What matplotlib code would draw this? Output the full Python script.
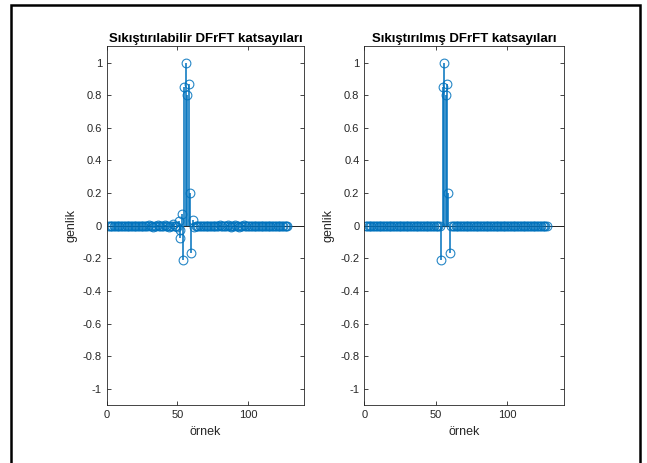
import numpy as np
import matplotlib.pyplot as plt
from matplotlib.patches import Rectangle

plt.rcParams['font.family'] = ['Liberation Sans', 'DejaVu Sans']

# sample index 1..128
n = np.arange(1, 129)

# main peak of both coefficient sets
peak_idx = [54, 55, 56, 57, 58, 59, 60]
peak_val = [-0.21, 0.85, 1.0, 0.80, 0.87, 0.20, -0.17]

# extra small coefficients only present in the compressible (left) set
small_idx = [30, 33, 36, 38, 41, 44, 47, 50, 51, 52, 53, 61, 62, 80, 83, 86, 88, 91, 94, 97]
small_val = [0.004, -0.005, 0.006, -0.004, 0.005, -0.006, 0.008, -0.01, 0.03, -0.025, 0.07,
             0.037, -0.008, 0.005, -0.004, 0.006, -0.005, 0.004, -0.006, 0.003]
small2_idx = [52]
small2_val = [-0.075]

left = np.zeros(128)
left[np.array(small_idx) - 1] = small_val
right = np.zeros(128)
right[np.array(peak_idx) - 1] = peak_val
left[np.array(peak_idx) - 1] = peak_val

titles = ['Sıkıştırılabilir DFrFT katsayıları', 'Sıkıştırılmış DFrFT katsayıları']
blue = '#0072BD'

fig = plt.figure(figsize=(6.47, 4.63), dpi=100)
ax1 = fig.add_axes([0.165, 0.125, 0.3054, 0.775])
ax2 = fig.add_axes([0.563, 0.125, 0.3087, 0.775])

for ax, y, extra, t in [(ax1, left, True, titles[0]), (ax2, right, False, titles[1])]:
    ml, sl, bl = ax.stem(n, y, linefmt='-', markerfmt='o', basefmt=' ')
    plt.setp(sl, color=blue, linewidth=1.1)
    plt.setp(ml, markeredgecolor=blue, markerfacecolor='none', markersize=6.3,
             markeredgewidth=0.8, alpha=0.85)
    if extra:
        ml2, sl2, _ = ax.stem(small2_idx, small2_val, linefmt='-', markerfmt='o', basefmt=' ')
        plt.setp(sl2, color=blue, linewidth=1.1)
        plt.setp(ml2, markeredgecolor=blue, markerfacecolor='none', markersize=6.3,
                 markeredgewidth=0.8, alpha=0.85)
    ax.axhline(0, color='k', linewidth=0.6, zorder=0)
    ax.set_xlim(0, 140)
    ax.set_ylim(-1.1, 1.1)
    ax.set_xticks([0, 50, 100])
    ax.set_yticks(np.round(np.arange(-1, 1.01, 0.2), 1))
    ax.set_yticklabels(['-1', '-0.8', '-0.6', '-0.4', '-0.2', '0', '0.2', '0.4', '0.6', '0.8', '1'])
    ax.tick_params(direction='in', top=True, right=True, labelsize=8, colors='#262626',
                   length=3, width=0.6)
    for s in ax.spines.values():
        s.set_color('#262626')
        s.set_linewidth(0.6)
    ax.set_title(t, fontsize=9.5, fontweight='bold', pad=3)
    ax.set_xlabel('örnek', fontsize=9, color='#262626')
    ax.set_ylabel('genlik', fontsize=9, color='#262626')

fig.patches.append(Rectangle((11 / 647, -0.05), 629 / 647, 1 - 5 / 463 + 0.05,
                             transform=fig.transFigure, fill=False, edgecolor='k',
                             linewidth=1.8))

fig.savefig('out.png', dpi=100)
